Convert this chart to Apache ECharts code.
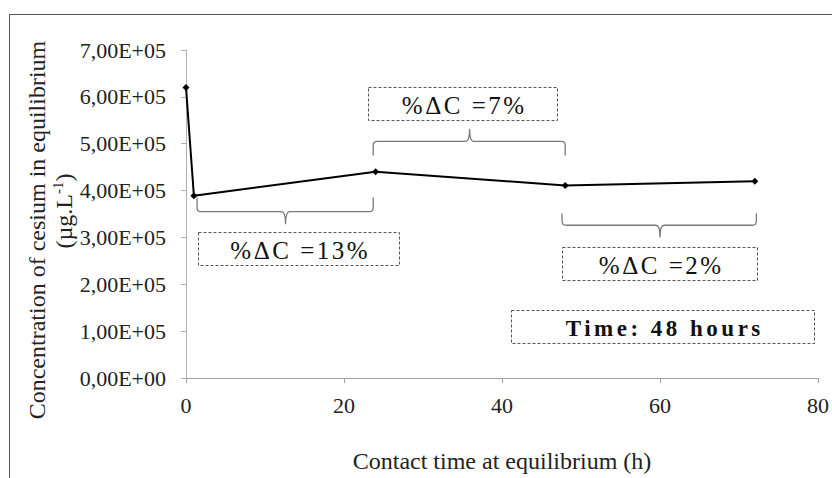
<!DOCTYPE html>
<html>
<head>
<meta charset="utf-8">
<script src="https://cdn.jsdelivr.net/npm/echarts@6/dist/echarts.min.js"></script>
<style>
html,body{margin:0;padding:0;background:#fff;}
#chart{width:832px;height:478px;}
</style>
</head>
<body>
<div id="chart"></div>
<script>
// ---- data ----
const xValues = [0, 1, 24, 48, 72];
const yValues = [620000, 389000, 440000, 411000, 420000];
const xTickLabels = ['0', '20', '40', '60', '80'];
const yTickLabels = ['0,00E+00', '1,00E+05', '2,00E+05', '3,00E+05', '4,00E+05', '5,00E+05', '6,00E+05', '7,00E+05'];

// ---- annotations (data units) ----
const braceX1 = [1.4, 23.7, 47.6];
const braceX2 = [23.7, 48.0, 72.2];
const braceXc = [12.6, 35.9, 60.0];
const braceYEnd = [385000, 475000, 351000];
const braceYMid = [355000, 505000, 326000];
const braceYTip = [328000, 532000, 300000];

const boxLabels = ['%ΔC =13%', '%ΔC =7%', '%ΔC =2%', 'Time: 48 hours'];
const boxX1 = [1.5, 23.05, 47.6, 41.2];
const boxX2 = [27.0, 47.0, 72.3, 79.5];
const boxYTop = [311000, 620000, 280000, 145000];
const boxYBot = [240000, 549000, 210000, 74000];

const serif = '"Liberation Serif", "Times New Roman", serif';
const boxFonts = ['25px ' + serif, '25px ' + serif, '25px ' + serif, 'bold 23px ' + serif];
const boxSpacing = [2.5, 2.5, 2.5, 3.5];

const chart = echarts.init(document.getElementById('chart'), null, {renderer: 'svg'});

const braceData = braceX1.map((v, i) => [v, braceX2[i], braceXc[i], braceYEnd[i], braceYMid[i], braceYTip[i]]);
const boxData = boxX1.map((v, i) => [v, boxX2[i], boxYTop[i], boxYBot[i], i]);

const option = {
  animation: false,
  backgroundColor: '#fff',
  grid: {left: 186, right: 11, top: 50, bottom: 95, containLabel: false},
  xAxis: {
    type: 'value', min: 0, max: 80, interval: 20,
    name: 'Contact time at equilibrium (h)',
    nameLocation: 'middle', nameGap: 71,
    nameTextStyle: {fontFamily: serif, fontSize: 24, color: '#222'},
    axisLine: {show: true, lineStyle: {color: '#a0a0a0', width: 1}},
    axisTick: {show: true, length: 5, lineStyle: {color: '#a0a0a0'}},
    axisLabel: {margin: 16, fontFamily: serif, fontSize: 22, color: '#222',
      formatter: (v) => xTickLabels[Math.round(v / 20)]},
    splitLine: {show: false}
  },
  yAxis: {
    type: 'value', min: 0, max: 700000, interval: 100000,
    axisLine: {show: true, lineStyle: {color: '#b0b0b0', width: 1}},
    axisTick: {show: true, length: 5, lineStyle: {color: '#b0b0b0'}},
    axisLabel: {margin: 20, fontFamily: serif, fontSize: 22, color: '#222',
      formatter: (v) => yTickLabels[Math.round(v / 100000)]},
    splitLine: {show: false}
  },
  graphic: [
    {type: 'line', shape: {x1: 9, y1: 14.5, x2: 832, y2: 14.5}, style: {stroke: '#555', lineWidth: 1}, silent: true},
    {type: 'line', shape: {x1: 9.5, y1: 14, x2: 9.5, y2: 478}, style: {stroke: '#555', lineWidth: 1}, silent: true},
    {type: 'text', x: 37, y: 230, rotation: Math.PI / 2, silent: true,
      style: {text: 'Concentration of cesium in equilibrium', font: '24px ' + serif, fill: '#222', align: 'center', verticalAlign: 'middle'}},
    {type: 'text', x: 64, y: 211, rotation: Math.PI / 2, silent: true,
      style: {text: '{n|(µg.L}{s|-1}{n|)}', align: 'center', verticalAlign: 'middle',
        rich: {
          n: {fontFamily: serif, fontSize: 24, lineHeight: 28, fill: '#222', color: '#222'},
          s: {fontFamily: serif, fontSize: 15, lineHeight: 16, verticalAlign: 'top', color: '#222', fill: '#222'}
        }}}
  ],
  series: [
    {
      type: 'line',
      silent: true,
      data: xValues.map((x, i) => [x, yValues[i]]),
      symbol: 'diamond', symbolSize: 7,
      lineStyle: {color: '#000', width: 2},
      itemStyle: {color: '#000'},
      z: 5
    },
    {
      type: 'custom',
      silent: true,
      clip: false,
      data: braceData,
      renderItem: function (params, api) {
        const p1 = api.coord([api.value(0), api.value(3)]);
        const p2 = api.coord([api.value(1), api.value(3)]);
        const pm = api.coord([api.value(2), api.value(4)]);
        const pt = api.coord([api.value(2), api.value(5)]);
        const X1 = p1[0], X2 = p2[0], YE = p1[1], YM = pm[1], XC = pm[0], YT = pt[1];
        const s = YT > YM ? 1 : -1;
        const r = 4;
        const d = 'M' + X1 + ' ' + YE + ' L' + X1 + ' ' + (YM - s * r) +
          ' Q' + X1 + ' ' + YM + ' ' + (X1 + r) + ' ' + YM +
          ' L' + (XC - r) + ' ' + YM +
          ' Q' + XC + ' ' + YM + ' ' + XC + ' ' + YT +
          ' Q' + XC + ' ' + YM + ' ' + (XC + r) + ' ' + YM +
          ' L' + (X2 - r) + ' ' + YM +
          ' Q' + X2 + ' ' + YM + ' ' + X2 + ' ' + (YM - s * r) +
          ' L' + X2 + ' ' + YE;
        return {type: 'path', shape: {pathData: d}, style: {fill: 'none', stroke: '#7a7a7a', lineWidth: 1.3}};
      },
      z: 3
    },
    {
      type: 'custom',
      silent: true,
      clip: false,
      data: boxData,
      renderItem: function (params, api) {
        const a = api.coord([api.value(0), api.value(2)]);
        const b = api.coord([api.value(1), api.value(3)]);
        const i = api.value(4);
        const x = Math.round(a[0]) + 0.5, y = Math.round(a[1]) + 0.5;
        const w = Math.round(b[0] - a[0]), h = Math.round(b[1] - a[1]);
        return {
          type: 'group',
          children: [
            {type: 'rect', shape: {x: x, y: y, width: w, height: h},
              style: {fill: '#fff', stroke: '#555', lineWidth: 1, lineDash: [3, 2]}},
            {type: 'text', style: {text: boxLabels[i], x: x + w / 2, y: y + h / 2 + 1,
              align: 'center', verticalAlign: 'middle', font: boxFonts[i], fill: '#111'}}
          ]
        };
      },
      z: 4
    }
  ]
};

chart.setOption(option);

function applySpacing() {
  const texts = document.querySelectorAll('#chart svg text');
  texts.forEach(t => {
    const idx = boxLabels.indexOf(t.textContent);
    if (idx >= 0) {
      t.setAttribute('letter-spacing', boxSpacing[idx]);
      t.setAttribute('dx', boxSpacing[idx] / 2);
    }
  });
}
applySpacing();
chart.on('finished', applySpacing);
</script>
</body>
</html>
